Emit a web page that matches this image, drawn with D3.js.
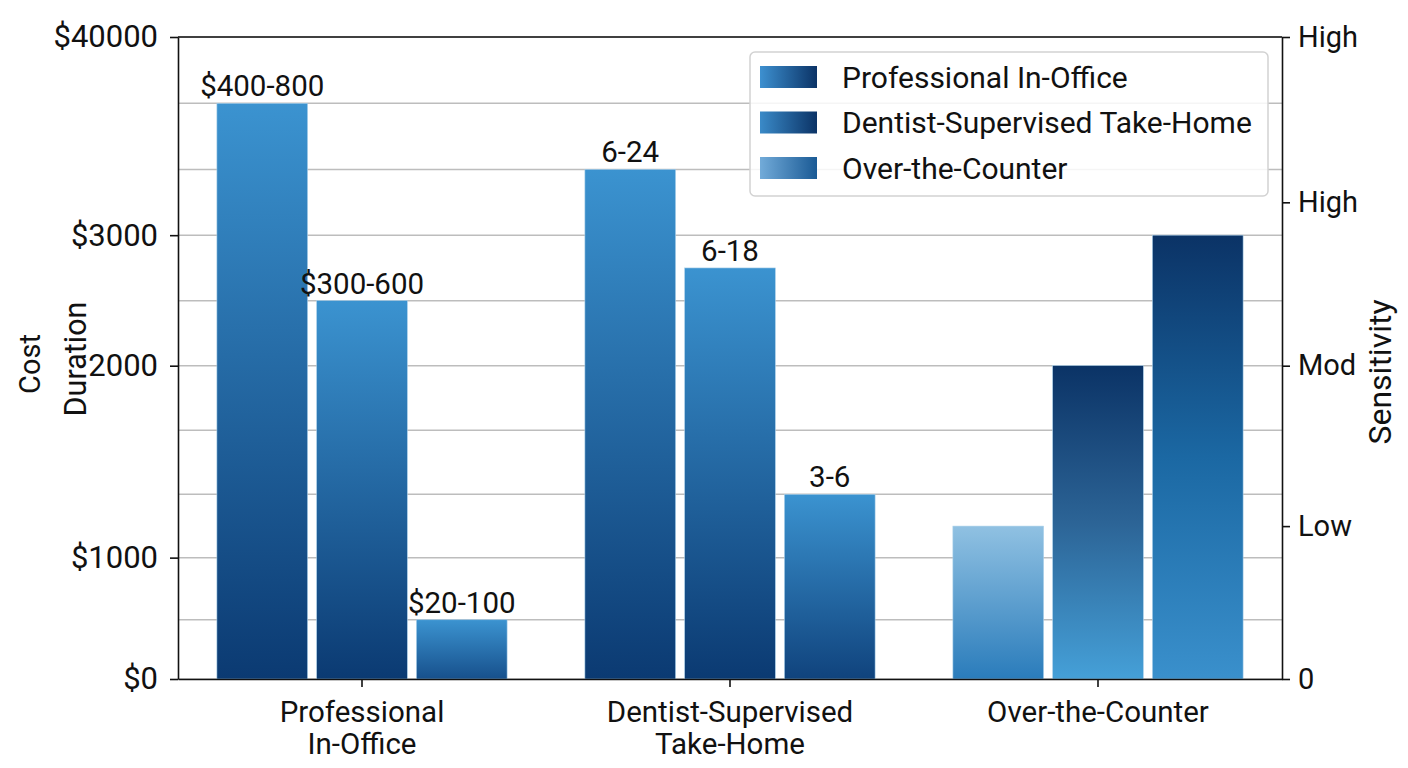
<!DOCTYPE html>
<html>
<head>
<meta charset="utf-8">
<script src="https://cdn.jsdelivr.net/npm/d3@7"></script>
<style>
  html, body { margin: 0; padding: 0; background: #fff; }
  svg { display: block; }
  text { font-family: Roboto, "Liberation Sans", sans-serif; fill: #111; }
</style>
</head>
<body>
<svg id="chart" width="1408" height="768"></svg>
<script>
// ---------- data ----------
const groups = ["Professional In-Office", "Dentist-Supervised Take-Home", "Over-the-Counter"];
const groupLabelLines = [["Professional", "In-Office"], ["Dentist-Supervised", "Take-Home"], ["Over-the-Counter"]];
const series = ["Professional In-Office", "Dentist-Supervised Take-Home", "Over-the-Counter"];
const costValues = [9, 6, 1];
const durationValues = [8, 6.5, 3];
const sensitivityValues = [2.5, 5, 7];
const costLabels = ["$400-800", "$300-600", "$20-100"];
const durationLabels = ["6-24", "6-18", "3-6"];
const sensitivityLabels = [null, null, null];
const leftTickValues = [0, 2, 5, 7, 10];
const leftTickLabels = ["$0", "$1000", "2000", "$3000", "$40000"];
const rightTickValues = [0, 2.5, 5, 7.5, 10];
const rightTickLabels = ["0", "Low", "Mod", "High", "High"];

const groupValues = [costValues, durationValues, sensitivityValues];
const groupBarLabels = [costLabels, durationLabels, sensitivityLabels];

// ---------- styles ----------
const barGradients = [
  [["#3b93d0", "#0b3a72"], ["#3b93d0", "#0b3a72"], ["#3b93d0", "#17508c"]],
  [["#3b93d0", "#0b3a72"], ["#3b93d0", "#0b3a72"], ["#3b93d0", "#10437d"]],
  [["#90c1e2", "#2a7cbb"], ["#0b3366", "#2c6496", "#45a0d8"], ["#0b3366", "#1b68a3", "#3a90cc"]]
];
const legendGradients = [["#3d90d0", "#0b3366"], ["#3a8ac8", "#0b3366"], ["#72abd9", "#1a5a95"]];

// ---------- layout ----------
const L = 178, R = 1282, T = 37, B = 679;
const svg = d3.select("#chart");
const defs = svg.append("defs");

const x0 = d3.scaleBand().domain(groups).range([L, R]).padding(0);
const x1 = d3.scaleBand().domain(series).range([0, x0.bandwidth()]).paddingInner(0.091).paddingOuter(0.39);
const y = d3.scalePow().exponent(1.035).domain([0, 10]).range([B, T]);

// gridlines
svg.append("g").selectAll("line").data(y.ticks(10)).join("line")
  .attr("x1", L).attr("x2", R)
  .attr("y1", d => y(d)).attr("y2", d => y(d))
  .attr("stroke", "#bdbdbd").attr("stroke-width", 1.5);

// gradients
barGradients.forEach((g, gi) => g.forEach((stops, si) => {
  const lg = defs.append("linearGradient").attr("id", `bg${gi}_${si}`)
    .attr("x1", 0).attr("y1", 0).attr("x2", 0).attr("y2", 1);
  stops.forEach((c, k) => lg.append("stop").attr("offset", k / (stops.length - 1)).attr("stop-color", c));
}));
legendGradients.forEach((stops, si) => {
  const lg = defs.append("linearGradient").attr("id", `lg${si}`)
    .attr("x1", 0).attr("y1", 0).attr("x2", 1).attr("y2", 0);
  stops.forEach((c, k) => lg.append("stop").attr("offset", k / (stops.length - 1)).attr("stop-color", c));
});

// bars
const gGroups = svg.append("g").selectAll("g").data(groups).join("g")
  .attr("transform", d => `translate(${x0(d)},0)`);
gGroups.each(function(gname, gi) {
  const g = d3.select(this);
  const vals = series.map((s, si) => ({ s, si, v: groupValues[gi][si], label: groupBarLabels[gi][si] }));
  g.selectAll("rect").data(vals).join("rect")
    .attr("x", d => x1(d.s))
    .attr("width", x1.bandwidth())
    .attr("y", d => y(d.v))
    .attr("height", d => y(0) - y(d.v))
    .attr("fill", d => `url(#bg${gi}_${d.si})`)
    .attr("stroke", "#a9cfe9").attr("stroke-width", 0.6);
  g.selectAll("text").data(vals.filter(d => d.label)).join("text")
    .attr("x", d => x1(d.s) + x1.bandwidth() / 2)
    .attr("y", d => y(d.v) - 7)
    .attr("text-anchor", "middle")
    .attr("font-size", 29.5)
    .text(d => d.label);
});

// axes
const leftAxis = d3.axisLeft(y).tickValues(leftTickValues)
  .tickFormat((d, i) => leftTickLabels[i]).tickSize(8).tickSizeOuter(0).tickPadding(12);
const gl = svg.append("g").attr("transform", `translate(${L},0)`).call(leftAxis);
const rightAxis = d3.axisRight(y).tickValues(rightTickValues)
  .tickFormat((d, i) => rightTickLabels[i]).tickSize(8).tickSizeOuter(0).tickPadding(8);
const gr = svg.append("g").attr("transform", `translate(${R},0)`).call(rightAxis);
const bottomAxis = d3.axisBottom(x0).tickSize(8).tickSizeOuter(0).tickFormat("");
const gb = svg.append("g").attr("transform", `translate(0,${B})`).call(bottomAxis);
[gl, gr, gb].forEach(g => {
  g.selectAll("path, line").attr("stroke", "#111").attr("stroke-width", 1.6);
  g.selectAll("text").attr("font-family", "Roboto, sans-serif").attr("fill", "#111");
});
gl.selectAll("text").attr("font-size", 31);
gr.selectAll("text").attr("font-size", 29);
// top frame line
svg.append("line").attr("x1", L).attr("x2", R).attr("y1", y(10)).attr("y2", y(10))
  .attr("stroke", "#111").attr("stroke-width", 1.6);

// x category labels
const xl = svg.append("g").selectAll("text").data(groups).join("text")
  .attr("x", d => x0(d) + x0.bandwidth() / 2)
  .attr("y", 722)
  .attr("text-anchor", "middle")
  .attr("font-size", 29.5);
xl.each(function(d, i) {
  const t = d3.select(this);
  groupLabelLines[i].forEach((line, k) => {
    t.append("tspan").attr("x", x0(d) + x0.bandwidth() / 2).attr("dy", k === 0 ? 0 : 32).text(line);
  });
});

// axis titles
svg.append("text").attr("transform", "translate(40,364) rotate(-90)")
  .attr("text-anchor", "middle").attr("font-size", 29).text("Cost");
svg.append("text").attr("transform", "translate(86,359) rotate(-90)")
  .attr("text-anchor", "middle").attr("font-size", 30.5).text("Duration");
svg.append("text").attr("transform", "translate(1391,372) rotate(-90)")
  .attr("text-anchor", "middle").attr("font-size", 32).text("Sensitivity");

// legend
const lgX = 750, lgY = 52, lgW = 518, lgH = 144;
const legend = svg.append("g");
legend.append("rect").attr("x", lgX).attr("y", lgY).attr("width", lgW).attr("height", lgH)
  .attr("rx", 5).attr("fill", "#fff").attr("fill-opacity", 0.85)
  .attr("stroke", "#d2d2d2").attr("stroke-width", 1.5);
const rowY = d3.scalePoint().domain(series).range([lgY + 25, lgY + 116]);
const items = legend.selectAll("g.item").data(series).join("g").attr("class", "item")
  .attr("transform", d => `translate(0,${rowY(d)})`);
items.append("rect").attr("x", lgX + 10).attr("y", -11).attr("width", 57).attr("height", 22)
  .attr("fill", (d, i) => `url(#lg${i})`);
items.append("text").attr("x", lgX + 92).attr("y", 0).attr("dy", "0.35em")
  .attr("font-size", 30).text(d => d);
</script>
</body>
</html>
